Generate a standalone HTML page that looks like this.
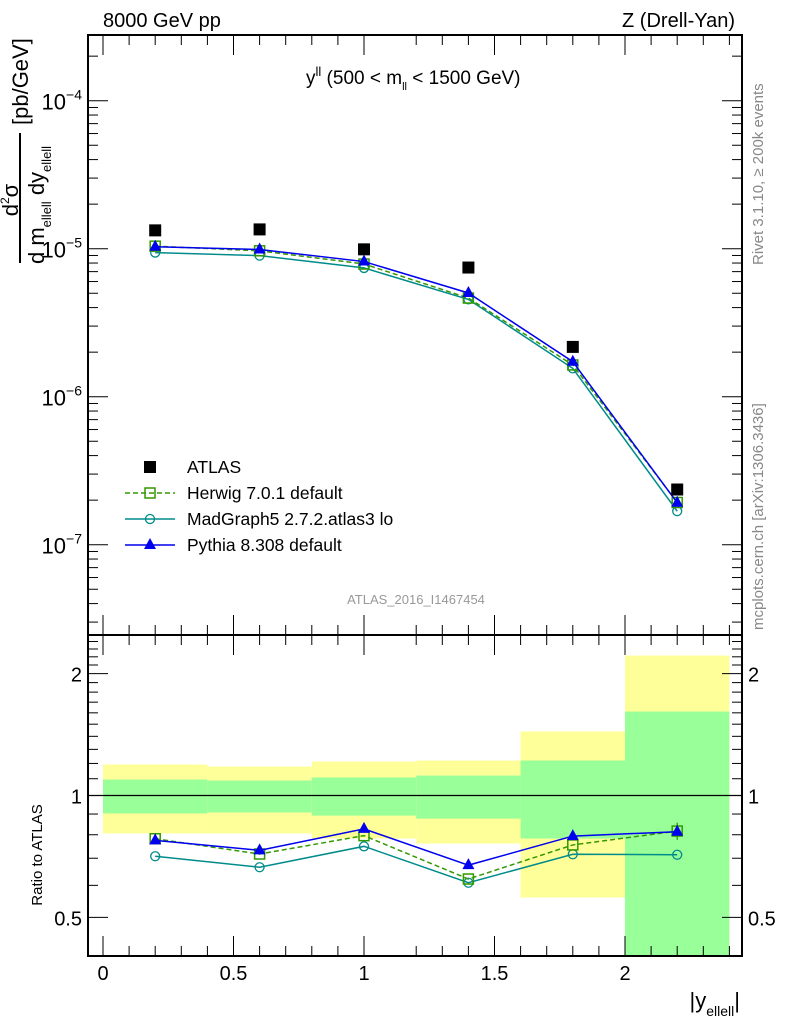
<!DOCTYPE html>
<html><head><meta charset="utf-8"><style>
body{margin:0;background:#fff}
svg{display:block;font-family:"Liberation Sans",sans-serif}
</style></head><body>
<svg width="786" height="1024" viewBox="0 0 786 1024">
<g id="bands"></g>
<g id="frames"></g>
<g id="marks"></g>
<text x="103" y="27" font-size="20">8000 GeV pp</text>
<text x="735" y="27" font-size="20" text-anchor="end">Z (Drell-Yan)</text>
<text x="306" y="84" font-size="19">y<tspan font-size="13" dy="-8">ll</tspan><tspan dy="8"> (500 &lt; m</tspan><tspan font-size="11" dy="6">ll</tspan><tspan dy="-6"> &lt; 1500 GeV)</tspan></text>
<text x="416" y="604" font-size="13" fill="#999" text-anchor="middle">ATLAS_2016_I1467454</text>
<text transform="translate(763,265) rotate(-90)" font-size="15" fill="#888">Rivet 3.1.10, ≥ 200k events</text>
<text transform="translate(763,630) rotate(-90)" font-size="15" fill="#888">mcplots.cern.ch [arXiv:1306.3436]</text>
<g>
<text transform="translate(18,200) rotate(-90)" font-size="22" text-anchor="middle">d<tspan font-size="12" dy="-9">2</tspan><tspan dy="9">σ</tspan></text>
<line x1="20" y1="263" x2="20" y2="133" stroke="#000" stroke-width="2"/>
<text transform="translate(44,264) rotate(-90)" font-size="22">d m<tspan font-size="13" dy="7">ellell</tspan><tspan dy="-7"> dy</tspan><tspan font-size="13" dy="7">ellell</tspan></text>
<text transform="translate(28,125) rotate(-90)" font-size="22">[pb/GeV]</text>
</g>
<text transform="translate(42,855) rotate(-90)" font-size="15" text-anchor="middle">Ratio to ATLAS</text>
<text x="740" y="1008" font-size="22" text-anchor="end">|y<tspan font-size="14" dy="8">ellell</tspan><tspan dy="-8">|</tspan></text>
<g id="legend"></g>
</svg>
<script>
const xCenters=[0.2,0.6,1.0,1.4,1.8,2.2];
const binEdges=[0,0.4,0.8,1.2,1.6,2.0,2.4];
const atlas=[1.33e-5,1.35e-5,0.99e-5,7.46e-6,2.17e-6,2.36e-7];
const herwigRatio=[0.782,0.717,0.796,0.622,0.755,0.817];
const madgraphRatio=[0.708,0.665,0.749,0.609,0.716,0.714];
const pythiaRatio=[0.775,0.732,0.827,0.673,0.794,0.814];
const herwigErr=[0,0,0,0,0,0.04];
const yellowHi=[1.193,1.179,1.213,1.220,1.439,2.216];
const yellowLo=[0.806,0.806,0.783,0.761,0.560,0.30];
const greenHi=[1.095,1.089,1.108,1.120,1.220,1.612];
const greenLo=[0.903,0.908,0.892,0.877,0.783,0.30];
const mainTicks=[-4,-5,-6,-7];
const ratioTicks=[0.5,1,2];
const xTicks=[0,0.5,1,1.5,2];

const NS="http://www.w3.org/2000/svg";
const L=88,R=742,T1=35,B1=635,T2=635,B2=956;
const X=v=>103+v*261;
const Ymain=v=>100.7+(-4-Math.log10(v))*148;
const Yr=v=>795.5-Math.log10(v)*405;
function mk(tag,attrs,parent){const e=document.createElementNS(NS,tag);for(const k in attrs)e.setAttribute(k,attrs[k]);parent.appendChild(e);return e;}
const bands=document.getElementById('bands'),frames=document.getElementById('frames'),marks=document.getElementById('marks'),legend=document.getElementById('legend');
const clipR=v=>Math.min(Math.max(v,T2),B2);
for(let i=0;i<6;i++){
 const y=mk('rect',{x:X(binEdges[i]),width:X(binEdges[i+1])-X(binEdges[i]),y:clipR(Yr(yellowHi[i])),height:clipR(Yr(yellowLo[i]))-clipR(Yr(yellowHi[i])),fill:'#ffff99'},bands);
 
 
 const g=mk('rect',{x:X(binEdges[i]),width:X(binEdges[i+1])-X(binEdges[i]),y:clipR(Yr(greenHi[i])),height:clipR(Yr(greenLo[i]))-clipR(Yr(greenHi[i])),fill:'#99ff99'},bands);
 
 
}
mk('line',{x1:L,x2:R,y1:Yr(1),y2:Yr(1),stroke:'#000','stroke-width':1.3},bands);
mk('rect',{x:L,y:T1,width:R-L,height:B1-T1,fill:'none',stroke:'#000','stroke-width':2},frames);
mk('rect',{x:L,y:T2,width:R-L,height:B2-T2,fill:'none',stroke:'#000','stroke-width':2},frames);
for(let v=-0.05;v<=2.45;v+=0.1){const vv=Math.round(v*10)/10;if(vv<-0.05)continue;const x=X(vv);const major=Math.abs(vv*2-Math.round(vv*2))<1e-6;const len=major?20:10;
 for(const [t,b] of [[T1,B1],[T2,B2]]){mk('line',{x1:x,x2:x,y1:t,y2:t+len,stroke:'#000'},frames);mk('line',{x1:x,x2:x,y1:b,y2:b-len,stroke:'#000'},frames);}}
xTicks.forEach(v=>{const t=mk('text',{x:X(v),y:980,'font-size':20,'text-anchor':'middle'},frames);t.textContent=String(v);
 
 });
for(let d=-8;d<=-3;d++){for(let m=1;m<10;m++){const v=m*Math.pow(10,d);const y=Ymain(v);if(y<T1||y>B1)continue;const len=m==1?20:10;
 mk('line',{x1:L,x2:L+len,y1:y,y2:y,stroke:'#000'},frames);mk('line',{x1:R,x2:R-len,y1:y,y2:y,stroke:'#000'},frames);}}
mainTicks.forEach(d=>{const t=mk('text',{x:82,y:Ymain(Math.pow(10,d))+9,'font-size':22,'text-anchor':'end'},frames);
 t.innerHTML='10<tspan font-size="14" dy="-10">−'+(-d)+'</tspan>';
 
 });
for(const v of [0.4,0.5,0.6,0.7,0.8,0.9,1,1.1,1.2,1.3,1.4,1.5,1.6,1.7,1.8,1.9,2,2.1,2.2,2.3,2.4]){const y=Yr(v);if(y<T2||y>B2)continue;const len=(v==0.5||v==1||v==2)?20:10;
 mk('line',{x1:L,x2:L+len,y1:y,y2:y,stroke:'#000'},frames);mk('line',{x1:R,x2:R-len,y1:y,y2:y,stroke:'#000'},frames);}
ratioTicks.forEach(v=>{for(const [x,a] of [[82,'end'],[748,'start']]){const t=mk('text',{x:x,y:Yr(v)+8,'font-size':20,'text-anchor':a},frames);t.textContent=String(v);
 
 }});
function marker(type,x,y,col,p){
 if(type=='sq'){mk('rect',{x:x-5,y:y-5,width:10,height:10,fill:'none',stroke:col,'stroke-width':1.5},p);}
 else if(type=='circ'){mk('circle',{cx:x,cy:y,r:4.5,fill:'none',stroke:col,'stroke-width':1.3},p);}
 else if(type=='tri'){mk('polygon',{points:`${x},${y-7} ${x-6},${y+4} ${x+6},${y+4}`,fill:col},p);}
 else {mk('rect',{x:x-6,y:y-6,width:12,height:12,fill:col},p);}
}
const series=[
 {name:'madgraph',r:madgraphRatio,col:'#008b8b',type:'circ',dash:''},
 {name:'herwig',r:herwigRatio,col:'#339900',type:'sq',dash:'5,3'},
 {name:'pythia',r:pythiaRatio,col:'#0000ee',type:'tri',dash:''}];
series.forEach(s=>{
 const g=mk('g',{},marks);
 
 
 const vals=atlas.map((a,i)=>a*s.r[i]);
 mk('polyline',{points:xCenters.map((x,i)=>X(x)+','+Ymain(vals[i])).join(' '),fill:'none',stroke:s.col,'stroke-width':1.5,'stroke-dasharray':s.dash},g);
 mk('polyline',{points:xCenters.map((x,i)=>X(x)+','+Yr(s.r[i])).join(' '),fill:'none',stroke:s.col,'stroke-width':1.5,'stroke-dasharray':s.dash},g);
 if(s.name=='herwig')xCenters.forEach((x,i)=>{if(herwigErr[i]>0)mk('line',{x1:X(x),x2:X(x),y1:Yr(s.r[i]+herwigErr[i]),y2:Yr(s.r[i]-herwigErr[i]),stroke:s.col,'stroke-width':1.3},g);});
 xCenters.forEach((x,i)=>{marker(s.type,X(x),Ymain(vals[i]),s.col,g);marker(s.type,X(x),Yr(s.r[i]),s.col,g);});
});
const ga=mk('g',{},marks);


xCenters.forEach((x,i)=>marker('data',X(x),Ymain(atlas[i]),'#000',ga));
const leg=[['data','#000','','ATLAS'],['sq','#339900','5,3','Herwig 7.0.1 default'],['circ','#008b8b','','MadGraph5 2.7.2.atlas3 lo'],['tri','#0000ee','','Pythia 8.308 default']];
leg.forEach((l,i)=>{const y=467+i*26;const g=mk('g',{},legend);
 
 
 if(l[0]!='data')mk('line',{x1:125,x2:175,y1:y,y2:y,stroke:l[1],'stroke-width':1.5,'stroke-dasharray':l[2]},g);
 marker(l[0],150,y,l[1],g);
 const t=mk('text',{x:187,y:y+6,'font-size':17.5},g);t.textContent=l[3];});
</script>
</body></html>
